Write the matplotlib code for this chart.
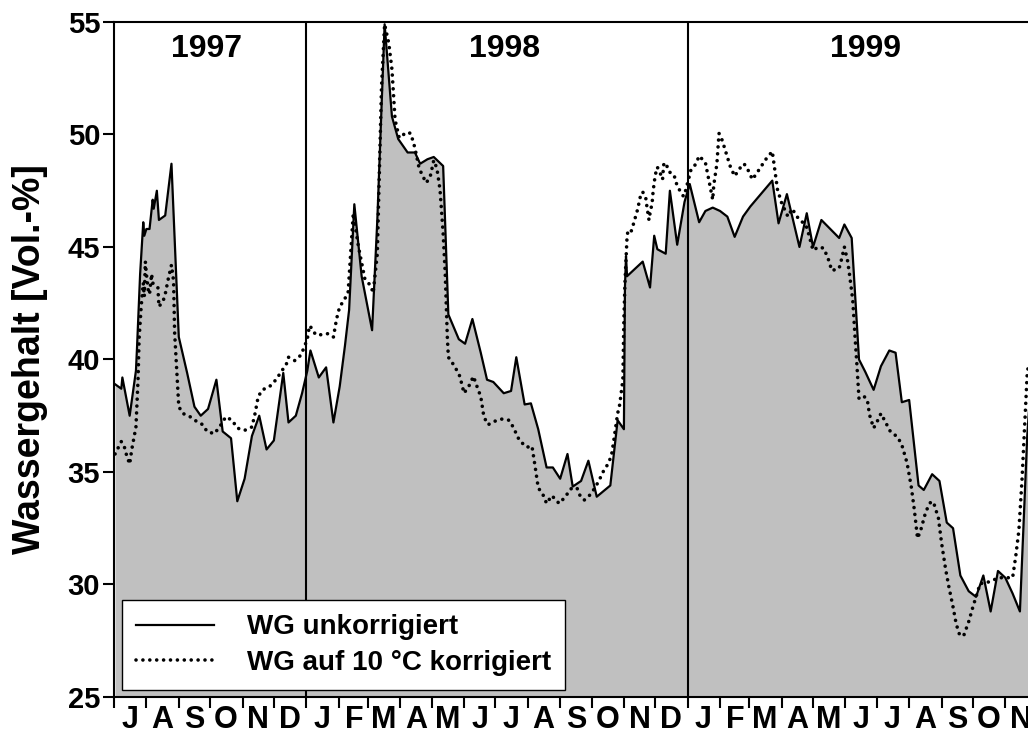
import numpy as np
import pandas as pd
import matplotlib
matplotlib.use("Agg")
import matplotlib.pyplot as plt
import matplotlib.dates as mdates

plt.rcParams['font.family'] = ['Liberation Sans', 'DejaVu Sans']
plt.rcParams['font.weight'] = 'bold'

# days since 1 July 1997, water content in Vol.-%
solid_day = [1, 7, 8, 15, 21, 22, 25, 28, 29, 31, 34, 37, 38, 41, 43, 49, 55, 62, 70, 77,
             83, 90, 98, 104, 112, 118, 125, 132, 139, 146, 153, 162, 167, 174, 180, 185, 188, 196, 203, 210,
             216, 221, 225, 230, 237, 247, 252, 259, 266, 272, 281, 288, 293, 300, 306, 315, 320, 330, 336, 343,
             351, 357, 363, 373, 380, 385, 393, 399, 406, 414, 420, 427, 434, 439, 447, 454, 462, 475, 482, 488,
             489, 490, 491, 506, 513, 517, 520, 528, 532, 539, 546, 551, 560, 566, 573, 580, 587, 594, 602, 609,
             630, 636, 644, 656, 663, 669, 677, 694, 699, 706, 713, 719, 727, 734, 742, 748, 754, 761, 770, 775,
             783, 790, 797, 803, 810, 818, 825, 832, 839, 846, 853, 860, 867, 874, 879]
solid_wg = [38.9, 38.7, 39.2, 37.5, 39.5, 40.5, 43.8, 46.1, 45.5, 45.8, 45.8, 47.1, 46.7, 47.5, 46.2, 46.4, 48.7, 41.0, 39.4, 37.9,
            37.5, 37.8, 39.1, 36.8, 36.5, 33.7, 34.7, 36.6, 37.5, 36.0, 36.4, 39.4, 37.2, 37.5, 38.5, 39.5, 40.4, 39.2, 39.65, 37.2,
            38.8, 40.6, 42.2, 46.9, 43.7, 41.3, 46.2, 54.9, 50.8, 49.8, 49.2, 49.2, 48.7, 48.9, 49.0, 48.6, 42.0, 40.9, 40.7, 41.8,
            40.3, 39.1, 39.0, 38.5, 38.6, 40.1, 38.0, 38.05, 36.9, 35.2, 35.2, 34.7, 35.8, 34.35, 34.6, 35.5, 33.9, 34.4, 37.3, 36.9,
            43.2, 44.6, 43.7, 44.35, 43.2, 45.5, 44.9, 44.7, 47.5, 45.1, 47.0, 47.8, 46.1, 46.6, 46.75, 46.6, 46.35, 45.45, 46.35, 46.8,
            47.95, 46.05, 47.35, 45.0, 46.5, 45.0, 46.2, 45.4, 46.0, 45.4, 40.0, 39.45, 38.65, 39.7, 40.4, 40.3, 38.1, 38.2, 34.4, 34.2,
            34.9, 34.6, 32.75, 32.5, 30.4, 29.7, 29.45, 30.4, 28.8, 30.6, 30.3, 29.6, 28.8, 36.6, 40.0]

dotted_day = [1, 7, 10, 12, 15, 17, 21, 23, 24, 26, 28, 29, 30, 31, 33, 34, 36, 37, 42, 43,
              47, 49, 52, 55, 57, 58, 62, 66, 73, 79, 85, 89, 96, 101, 107, 113, 118, 125, 132, 135,
              138, 142, 149, 155, 160, 165, 167, 173, 179, 182, 185, 187, 189, 193, 199, 205, 210, 213, 216, 219,
              224, 229, 234, 240, 246, 248, 252, 256, 259, 263, 266, 269, 273, 280, 284, 288, 292, 296, 299, 303,
              306, 309, 312, 315, 317, 319, 320, 326, 331, 335, 340, 344, 347, 351, 354, 358, 364, 371, 378, 382,
              388, 395, 400, 403, 406, 411, 414, 419, 426, 432, 437, 443, 446, 450, 456, 461, 465, 468, 472, 476,
              478, 480, 482, 484, 487, 488, 489, 491, 492, 495, 497, 501, 504, 506, 509, 510, 512, 513, 515, 516,
              518, 520, 523, 525, 526, 528, 531, 536, 538, 541, 545, 547, 550, 552, 557, 560, 566, 569, 573, 574,
              577, 579, 582, 586, 590, 594, 599, 603, 607, 611, 619, 623, 630, 633, 635, 639, 643, 645, 649, 653,
              656, 662, 665, 669, 674, 679, 683, 687, 694, 696, 699, 702, 704, 707, 709, 711, 713, 718, 721, 723,
              727, 731, 734, 739, 743, 750, 754, 759, 763, 766, 769, 772, 777, 782, 785, 789, 792, 796, 799, 803,
              806, 809, 813, 818, 822, 826, 829, 834, 841, 849, 854, 860, 863, 866, 869, 871, 873, 874, 878]
dotted_wg = [35.8, 36.35, 36.1, 35.75, 35.35, 36.0, 37.0, 39.1, 40.9, 42.35, 43.4, 42.8, 44.35, 43.8, 43.0, 42.9, 43.8, 43.4, 43.2, 42.35,
             42.6, 42.9, 43.6, 44.2, 43.5, 41.2, 37.9, 37.6, 37.45, 37.25, 37.1, 36.8, 36.7, 37.0, 37.45, 37.3, 36.95, 36.85, 37.0, 37.6,
             38.35, 38.65, 38.8, 39.1, 39.45, 39.8, 40.1, 39.95, 40.2, 40.55, 40.9, 41.5, 41.4, 41.1, 41.1, 41.15, 41.0, 41.8, 42.35, 42.55,
             42.95, 46.5, 45.0, 43.6, 43.25, 42.95, 44.7, 52.1, 54.9, 54.05, 52.9, 50.65, 49.85, 50.1, 50.05, 49.4, 48.5, 48.1, 47.85, 48.2,
             48.85, 48.5, 47.55, 45.6, 43.8, 41.0, 40.1, 39.7, 39.25, 38.5, 38.85, 39.25, 38.85, 38.35, 37.45, 37.1, 37.25, 37.35, 37.3, 37.0,
             36.4, 36.1, 36.15, 35.25, 34.3, 33.95, 33.6, 33.95, 33.6, 33.9, 34.25, 34.3, 33.95, 33.75, 34.0, 34.35, 34.7, 35.0, 35.3, 35.7,
             36.3, 36.95, 37.6, 38.0, 39.1, 41.8, 43.4, 45.45, 45.75, 45.7, 46.0, 46.65, 47.3, 47.45, 47.15, 46.8, 46.2, 46.5, 46.95, 47.5,
             48.2, 48.55, 48.25, 48.0, 48.65, 48.75, 48.35, 48.2, 47.85, 47.55, 47.25, 47.5, 48.05, 48.4, 48.7, 49.05, 48.75, 48.05, 47.1, 47.75,
             48.7, 50.05, 49.75, 49.15, 48.55, 48.15, 48.5, 48.7, 48.4, 48.0, 48.55, 48.85, 49.25, 48.25, 47.55, 46.95, 46.55, 46.35, 46.7, 46.4,
             46.2, 46.0, 45.55, 44.85, 45.0, 44.95, 44.55, 43.95, 44.05, 44.4, 45.0, 44.4, 43.75, 42.65, 41.15, 39.75, 38.25, 38.35, 38.2, 37.55,
             36.95, 37.3, 37.6, 37.15, 36.8, 36.55, 36.2, 35.4, 34.35, 33.3, 32.05, 32.4, 33.25, 33.7, 33.55, 32.95, 31.85, 30.65, 29.9, 29.0,
             28.25, 27.8, 27.7, 28.35, 29.0, 29.6, 30.05, 30.05, 30.2, 30.3, 30.3, 30.3, 31.25, 32.4, 34.65, 36.55, 38.35, 39.4, 40.5]

years = ['1997', '1998', '1999']
year_label_dates = ['1997-09-28', '1998-07-10', '1999-06-20']
year_starts = ['1998-01-01', '1999-01-01']
month_letters = ['J', 'F', 'M', 'A', 'M', 'J', 'J', 'A', 'S', 'O', 'N', 'D']

start = pd.Timestamp('1997-07-01')
x_solid = start + pd.to_timedelta(solid_day, unit='D')
x_dotted = start + pd.to_timedelta(dotted_day, unit='D')

fig = plt.figure(figsize=(10.28, 7.38), dpi=100)
ax = fig.add_axes([0.1109, 0.0556, 0.8975, 0.9146])

ax.fill_between(x_solid, solid_wg, 25, color='#c0c0c0', linewidth=0, zorder=1)
ax.plot(x_solid, solid_wg, color='black', lw=1.6, zorder=3, label='WG unkorrigiert')
ax.plot(x_dotted, dotted_wg, color='black', lw=2.6, linestyle=(0, (0.01, 1.9)),
        dash_capstyle='round', zorder=3, label='WG auf 10 °C korrigiert')

for d in year_starts:
    ax.axvline(pd.Timestamp(d), color='black', lw=1.5, zorder=2)
for y, d in zip(years, year_label_dates):
    ax.text(pd.Timestamp(d), 53.8, y, ha='center', va='center', fontsize=23, fontweight='bold')

ax.set_xlim(pd.Timestamp('1997-07-01'), pd.Timestamp('1999-12-01'))
ax.set_ylim(25, 55)
ax.set_yticks(np.arange(25, 56, 5))

ax.xaxis.set_major_locator(mdates.MonthLocator())
ax.xaxis.set_major_formatter(plt.NullFormatter())
ax.xaxis.set_minor_locator(mdates.MonthLocator(bymonthday=16))
ax.xaxis.set_minor_formatter(plt.FuncFormatter(lambda v, p: month_letters[mdates.num2date(v).month - 1]))
ax.tick_params(axis='x', which='major', direction='out', length=8, width=1.5)
ax.tick_params(axis='x', which='minor', length=0, pad=6, labelsize=22)
ax.tick_params(axis='y', direction='out', length=8, width=1.5, labelsize=21, pad=2)
for lab in ax.get_xticklabels(minor=True) + ax.get_yticklabels():
    lab.set_fontweight('bold')
for s in ax.spines.values():
    s.set_linewidth(1.5)

ax.set_ylabel('Wassergehalt [Vol.-%]', fontsize=27, fontweight='bold', labelpad=14)

leg = ax.legend(loc='lower left', bbox_to_anchor=(0.0087, 0.0104), fontsize=20, frameon=True,
                fancybox=False, edgecolor='black', framealpha=1, handlelength=2.8,
                handletextpad=1.2, borderpad=0.5, labelspacing=0.35, borderaxespad=0)
leg.get_frame().set_linewidth(1.0)
for t in leg.get_texts():
    t.set_fontweight('bold')

fig.savefig('out.png', dpi=100)
